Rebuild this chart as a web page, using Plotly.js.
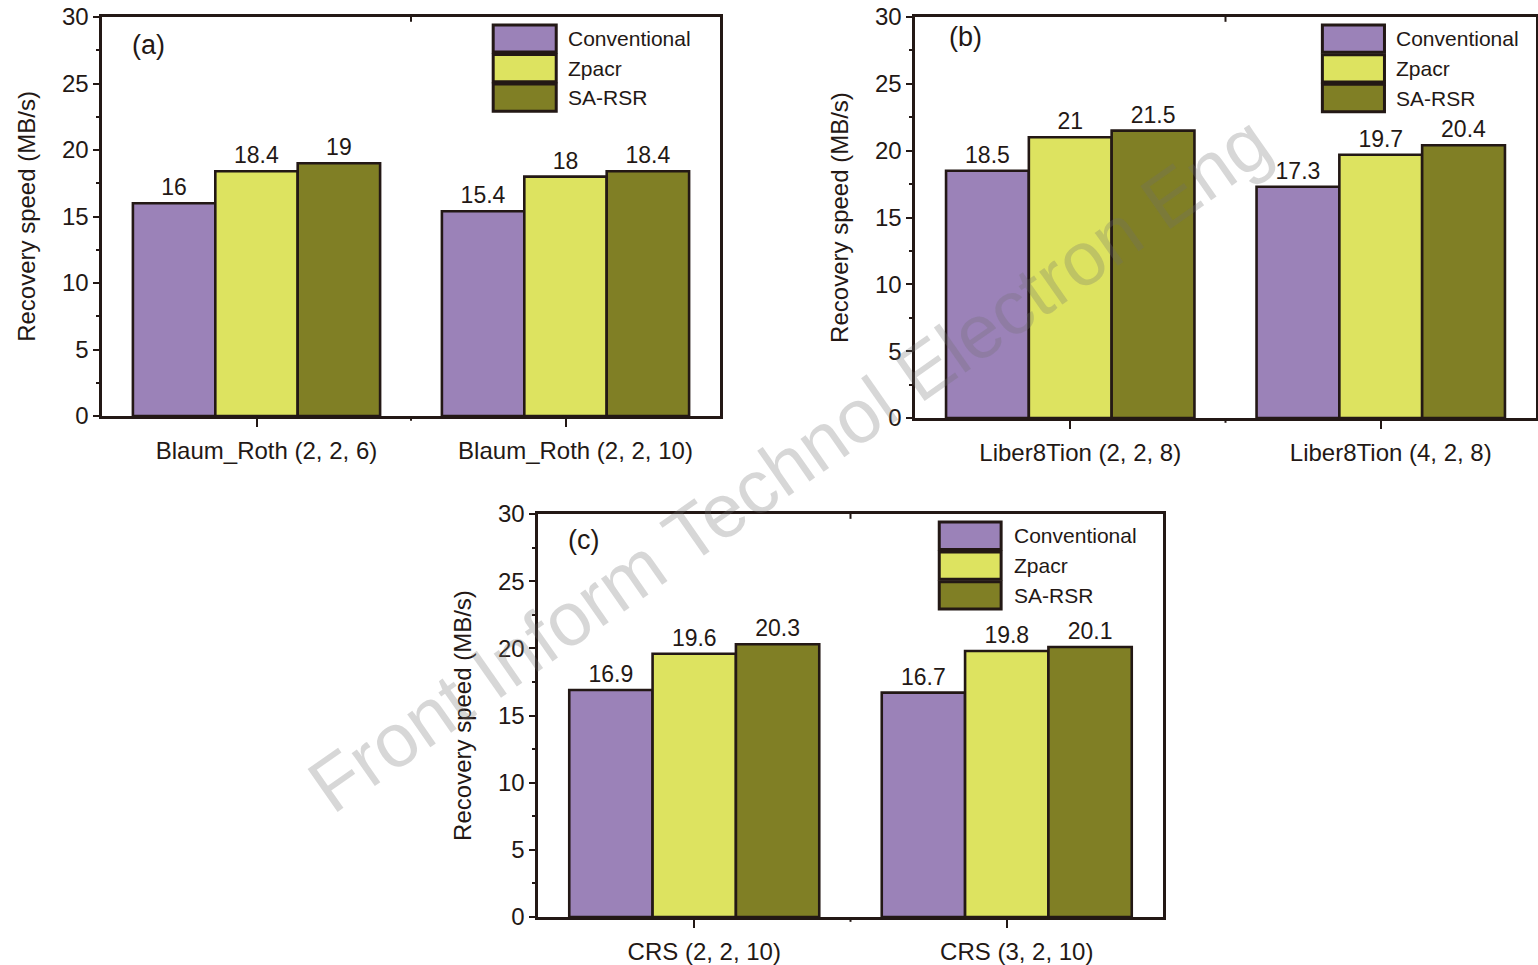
<!DOCTYPE html>
<html>
<head>
<meta charset="utf-8">
<script src="https://cdn.plot.ly/plotly-3.0.1.min.js"></script>
<style>
  html, body { margin: 0; padding: 0; background: #fff; }
  #chart { width: 1538px; height: 965px; }
</style>
</head>
<body>
<div id="chart"></div>
<script>
// ---- data ----
const seriesNames = ['Conventional', 'Zpacr', 'SA-RSR'];
const seriesColors = ['#9b82b8', '#dde360', '#807f25'];

const catsA = ['Blaum_Roth (2, 2, 6)', 'Blaum_Roth (2, 2, 10)'];
const convA = [16, 15.4];
const zpacrA = [18.4, 18];
const sarsrA = [19, 18.4];

const catsB = ['Liber8Tion (2, 2, 8)', 'Liber8Tion (4, 2, 8)'];
const convB = [18.5, 17.3];
const zpacrB = [21, 19.7];
const sarsrB = [21.5, 20.4];

const catsC = ['CRS (2, 2, 10)', 'CRS (3, 2, 10)'];
const convC = [16.9, 16.7];
const zpacrC = [19.6, 19.8];
const sarsrC = [20.3, 20.1];

const panelLabels = ['(a)', '(b)', '(c)'];
const yTitle = 'Recovery speed (MB/s)';
const watermark = 'Front Inform Technol Electron Eng';

// ---- style ----
const INK = '#231815';
const FONT = 'Liberation Sans, Arial, sans-serif';
const W = 1538, H = 965;

const panels = [
  {cats: catsA, vals: [convA, zpacrA, sarsrA], xa: 'x', ya: 'y', px: [102, 720], py: [17, 416], legX: [0.633, 0.735, 0.751], lab: [0.075, 0.93]},
  {cats: catsB, vals: [convB, zpacrB, sarsrB], xa: 'x2', ya: 'y2', px: [915, 1536], py: [17, 418], legX: [0.656, 0.756, 0.772], lab: [0.082, 0.95]},
  {cats: catsC, vals: [convC, zpacrC, sarsrC], xa: 'x3', ya: 'y3', px: [538, 1163], py: [514, 917], legX: [0.642, 0.741, 0.758], lab: [0.072, 0.935]}
];

const traces = [];
const shapes = [];
const annotations = [];
const layout = {
  width: W, height: H,
  margin: {l: 0, r: 0, t: 0, b: 0},
  paper_bgcolor: '#fff', plot_bgcolor: '#fff',
  barmode: 'group', bargap: 0.2, bargroupgap: 0,
  showlegend: false,
  font: {family: FONT, color: INK, size: 24},
  shapes: shapes, annotations: annotations
};

panels.forEach((p, pi) => {
  const sfx = pi === 0 ? '' : String(pi + 1);
  p.vals.forEach((v, si) => {
    traces.push({
      type: 'bar', x: p.cats, y: v, name: seriesNames[si],
      xaxis: p.xa, yaxis: p.ya,
      marker: {color: seriesColors[si], line: {color: INK, width: 2.6}},
      text: v.map(String), textposition: 'outside', cliponaxis: false,
      textfont: {family: FONT, size: 23, color: INK},
      hoverinfo: 'x+y+name'
    });
  });
  layout['xaxis' + sfx] = {
    domain: [p.px[0] / W, p.px[1] / W], anchor: p.ya,
    type: 'category', range: [-0.5, 1.5],
    showline: true, linecolor: INK, linewidth: 2.6, mirror: true,
    ticks: 'outside', ticklen: 8, tickwidth: 2, tickcolor: INK,
    ticklabelshift: 10, ticklabelstandoff: 4,
    showgrid: false, zeroline: false,
    tickfont: {family: FONT, size: 24, color: INK}
  };
  layout['yaxis' + sfx] = {
    domain: [1 - p.py[1] / H, 1 - p.py[0] / H], anchor: p.xa,
    range: [0, 30], dtick: 5, tick0: 0,
    showline: true, linecolor: INK, linewidth: 2.6, mirror: true,
    ticks: 'outside', ticklen: 6, tickwidth: 2, tickcolor: INK,
    minor: {dtick: 2.5, ticks: 'outside', ticklen: 3, tickwidth: 2, tickcolor: INK},
    showgrid: false, zeroline: false,
    tickfont: {family: FONT, size: 24, color: INK},
    title: {text: yTitle, font: {family: FONT, size: 24, color: INK}, standoff: 20}
  };
  // boundary ticks between groups (bottom outward, top inward)
  shapes.push({type: 'line', xref: p.xa, yref: p.ya + ' domain', x0: 0.5, x1: 0.5, y0: 0, y1: -0.012, line: {color: INK, width: 2}});
  shapes.push({type: 'line', xref: p.xa, yref: p.ya + ' domain', x0: 0.5, x1: 0.5, y0: 1, y1: 0.988, line: {color: INK, width: 2}});
  // legend box
  seriesNames.forEach((nm, si) => {
    const top = 0.98 - si * 0.074;
    shapes.push({type: 'rect', xref: p.xa + ' domain', yref: p.ya + ' domain',
      x0: p.legX[0], x1: p.legX[1], y0: top - 0.068, y1: top,
      fillcolor: seriesColors[si], line: {color: INK, width: 3}});
    annotations.push({xref: p.xa + ' domain', yref: p.ya + ' domain',
      x: p.legX[2], y: top - 0.034, text: nm, showarrow: false,
      xanchor: 'left', yanchor: 'middle', font: {family: FONT, size: 21, color: INK}});
  });
  annotations.push({xref: p.xa + ' domain', yref: p.ya + ' domain',
    x: p.lab[0], y: p.lab[1], text: panelLabels[pi], showarrow: false,
    xanchor: 'center', yanchor: 'middle', font: {family: FONT, size: 27, color: INK}});
});

annotations.push({xref: 'paper', yref: 'paper', x: 0.513, y: 0.52,
  text: watermark, showarrow: false, textangle: -35,
  font: {family: FONT, size: 76, color: 'rgba(110,110,110,0.28)'}});

Plotly.newPlot('chart', traces, layout, {staticPlot: true, displayModeBar: false});
</script>
</body>
</html>
